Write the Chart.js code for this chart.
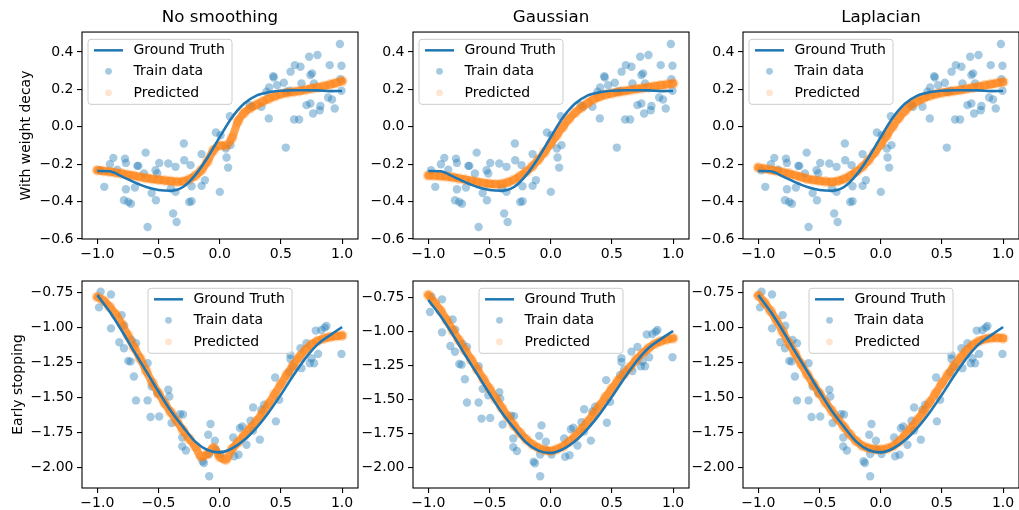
<!DOCTYPE html>
<html>
<head>
<meta charset="utf-8">
<script src="https://cdn.jsdelivr.net/npm/chart.js@4.4.0/dist/chart.umd.min.js"></script>
<style>
  html, body { margin: 0; padding: 0; background: #fff; width: 1019px; height: 510px; overflow: hidden; }
  canvas { position: absolute; }
</style>
</head>
<body>
<script>
// ---- data ----
const colTitles = ['No smoothing', 'Gaussian', 'Laplacian'];
const rowLabels = ['With weight decay', 'Early stopping'];
const legendLabels = ['Ground Truth', 'Train data', 'Predicted'];

const xTicks = [-1, -0.5, 0, 0.5, 1];
const yTicksTop = [-0.6, -0.4, -0.2, 0, 0.2, 0.4];
const yTicksBottom = [-2, -1.75, -1.5, -1.25, -1, -0.75];

const truthX = [-1, -0.9, -0.8, -0.7, -0.6, -0.5, -0.4, -0.3, -0.2, -0.1, 0,
                0.1, 0.2, 0.3, 0.4, 0.5, 0.6, 0.7, 0.8, 0.9, 1];
const truthTop = [-0.236, -0.238, -0.265, -0.296, -0.322, -0.338, -0.342, -0.322, -0.258, -0.165, -0.055,
                  0.050, 0.125, 0.167, 0.185, 0.193, 0.196, 0.196, 0.195, 0.191, 0.192];
const truthBottom = [-0.767, -0.885, -1.022, -1.170, -1.313, -1.457, -1.595, -1.710, -1.816, -1.876, -1.893,
                     -1.865, -1.805, -1.717, -1.607, -1.480, -1.345, -1.220, -1.120, -1.055, -0.995];

const predX = [-1, -0.95, -0.9, -0.85, -0.8, -0.75, -0.7, -0.65, -0.6, -0.55, -0.5,
               -0.45, -0.4, -0.35, -0.3, -0.25, -0.2, -0.15, -0.1, -0.05, 0,
               0.05, 0.1, 0.15, 0.2, 0.25, 0.3, 0.35, 0.4, 0.45, 0.5,
               0.55, 0.6, 0.65, 0.7, 0.75, 0.8, 0.85, 0.9, 0.95, 1];
const predTopNone = [-0.232, -0.236, -0.240, -0.245, -0.250, -0.256, -0.262, -0.268, -0.274, -0.279, -0.283,
                     -0.287, -0.290, -0.294, -0.292, -0.281, -0.262, -0.232, -0.185, -0.125, -0.100,
                     -0.100, -0.060, 0.030, 0.075, 0.100, 0.118, 0.135, 0.150, 0.163, 0.175,
                     0.182, 0.187, 0.192, 0.198, 0.205, 0.211, 0.218, 0.226, 0.235, 0.245];
const predTopGauss = [-0.260, -0.261, -0.263, -0.266, -0.270, -0.276, -0.282, -0.288, -0.295, -0.300, -0.305,
                      -0.307, -0.305, -0.297, -0.283, -0.263, -0.240, -0.211, -0.176, -0.135, -0.090,
                      -0.045, 0.000, 0.042, 0.076, 0.103, 0.126, 0.147, 0.161, 0.172, 0.179,
                      0.186, 0.191, 0.197, 0.202, 0.207, 0.212, 0.217, 0.222, 0.227, 0.232];
const predTopLap = [-0.218, -0.224, -0.230, -0.236, -0.243, -0.250, -0.259, -0.269, -0.278, -0.284, -0.289,
                    -0.293, -0.295, -0.290, -0.279, -0.262, -0.240, -0.214, -0.180, -0.138, -0.094,
                    -0.046, 0.003, 0.048, 0.086, 0.116, 0.138, 0.153, 0.166, 0.175, 0.182,
                    0.187, 0.192, 0.197, 0.203, 0.209, 0.215, 0.222, 0.228, 0.234, 0.240];
const predBottomNone = [-0.780, -0.805, -0.850, -0.905, -0.975, -1.055, -1.140, -1.220, -1.310, -1.395, -1.470,
                        -1.540, -1.605, -1.670, -1.735, -1.795, -1.850, -1.925, -1.905, -1.860, -1.925,
                        -1.945, -1.870, -1.820, -1.770, -1.720, -1.670, -1.610, -1.545, -1.475, -1.405,
                        -1.335, -1.270, -1.210, -1.160, -1.120, -1.095, -1.078, -1.067, -1.060, -1.057];
const predBottomGauss = [-0.730, -0.785, -0.845, -0.915, -0.990, -1.062, -1.135, -1.205, -1.277, -1.350, -1.420,
                         -1.492, -1.560, -1.627, -1.690, -1.745, -1.793, -1.830, -1.856, -1.872, -1.878,
                         -1.865, -1.845, -1.810, -1.770, -1.720, -1.665, -1.605, -1.545, -1.480, -1.420,
                         -1.360, -1.310, -1.260, -1.205, -1.160, -1.122, -1.090, -1.070, -1.057, -1.049];
const predBottomLap = [-0.770, -0.820, -0.880, -0.950, -1.030, -1.110, -1.185, -1.260, -1.335, -1.405, -1.470,
                       -1.535, -1.595, -1.655, -1.710, -1.765, -1.812, -1.845, -1.862, -1.870, -1.872,
                       -1.866, -1.848, -1.815, -1.768, -1.715, -1.660, -1.600, -1.535, -1.468, -1.400,
                       -1.335, -1.272, -1.215, -1.165, -1.125, -1.098, -1.082, -1.074, -1.072, -1.076];

const trainTop = [
  [-0.978, -0.232], [-0.943, -0.321], [-0.897, -0.200], [-0.869, -0.166], [-0.837, -0.229],
  [-0.774, -0.170], [-0.766, -0.193], [-0.766, -0.334], [-0.782, -0.393], [-0.747, -0.402],
  [-0.725, -0.411], [-0.693, -0.325], [-0.673, -0.209], [-0.665, -0.209], [-0.605, -0.138],
  [-0.619, -0.250], [-0.556, -0.354], [-0.589, -0.536], [-0.524, -0.232], [-0.521, -0.393],
  [-0.494, -0.193], [-0.510, -0.250], [-0.420, -0.196], [-0.380, -0.464], [-0.352, -0.509],
  [-0.399, -0.330], [-0.361, -0.348], [-0.361, -0.214], [-0.293, -0.089], [-0.290, -0.179],
  [-0.238, -0.205], [-0.249, -0.402], [-0.230, -0.398], [-0.230, -0.318], [-0.148, -0.146],
  [-0.148, -0.316], [-0.121, -0.286], [-0.031, -0.030], [0.001, -0.348], [0.007, -0.045],
  [0.050, -0.116], [0.056, -0.164], [0.069, -0.218], [0.083, 0.057], [0.088, -0.098],
  [0.246, 0.116], [0.265, 0.107], [0.341, 0.107], [0.382, 0.188], [0.401, 0.045],
  [0.404, 0.211], [0.437, 0.271], [0.442, 0.264], [0.469, 0.223], [0.524, 0.236],
  [0.540, -0.111], [0.545, 0.188], [0.573, 0.193], [0.579, 0.295], [0.608, 0.039],
  [0.614, 0.330], [0.649, 0.039], [0.660, 0.321], [0.668, 0.232], [0.709, 0.116],
  [0.731, 0.375], [0.741, 0.277], [0.755, 0.286], [0.741, 0.125], [0.763, 0.071],
  [0.771, 0.232], [0.799, 0.384], [0.823, 0.111], [0.818, 0.089], [0.899, 0.330],
  [0.886, 0.157], [0.918, 0.146], [0.940, 0.098], [0.982, 0.443], [0.995, 0.327],
  [0.986, 0.255], [0.995, 0.193]
];
const trainBottom = [
  [-0.986, -0.855], [-0.973, -0.743], [-0.888, -0.762], [-0.888, -1.005], [-0.801, -0.910],
  [-0.780, -0.986], [-0.820, -1.105], [-0.782, -1.148], [-0.747, -1.238], [-0.728, -1.243],
  [-0.720, -1.088], [-0.684, -1.112], [-0.701, -1.350], [-0.684, -1.521], [-0.589, -1.255],
  [-0.589, -1.521], [-0.565, -1.640], [-0.556, -1.421], [-0.510, -1.469], [-0.494, -1.636],
  [-0.420, -1.445], [-0.412, -1.493], [-0.393, -1.683], [-0.325, -1.619], [-0.300, -1.622],
  [-0.306, -1.786], [-0.306, -1.850], [-0.276, -1.879], [-0.140, -1.957], [-0.129, -1.969],
  [-0.094, -1.767], [-0.075, -1.690], [-0.086, -2.064], [-0.086, -1.905], [-0.039, -1.810],
  [-0.031, -1.874], [0.007, -1.905], [0.110, -1.786], [0.118, -1.921], [0.154, -1.910],
  [0.165, -1.719], [0.184, -1.707], [0.219, -1.838], [0.252, -1.667], [0.273, -1.571],
  [0.273, -1.736], [0.328, -1.802], [0.341, -1.588], [0.363, -1.552], [0.453, -1.357],
  [0.459, -1.671], [0.486, -1.517], [0.578, -1.195], [0.578, -1.224], [0.567, -1.319],
  [0.600, -1.279], [0.660, -1.147], [0.668, -1.290], [0.709, -1.112], [0.736, -1.255],
  [0.750, -1.219], [0.771, -1.255], [0.785, -1.021], [0.804, -1.188], [0.831, -1.017],
  [0.858, -1.000], [0.872, -0.988], [0.995, -1.188]
];

// ---- panel layout ----
const blue = '#1f77b4';
const trainColor = 'rgba(31,119,180,0.4)';
const predDotColor = 'rgba(255,127,14,0.3)';
const predBandColor = 'rgba(255,127,14,0.75)';
const predLegendColor = 'rgba(255,127,14,0.2)';

const colLeft = [0, 361, 691];
const yAxisW = [82, 52, 52];
const rowTop = [0, 249];
const yTitlePad = [18, 9.6];
const yRange = [
  [[-0.6, 0.507], [-0.6, 0.507], [-0.6, 0.507]],
  [[-2.148, -0.666], [-2.151, -0.627], [-2.148, -0.666]]
];
const preds = [[predTopNone, predTopGauss, predTopLap], [predBottomNone, predBottomGauss, predBottomLap]];

Chart.defaults.font.family = '"DejaVu Sans", sans-serif';
Chart.defaults.font.size = 14;
Chart.defaults.color = '#000';

const fmt = (v, d) => v.toFixed(d).replace('-', '\u2212');

// spines on all four sides plus a matplotlib-like legend box
const mplFrame = {
  id: 'mplFrame',
  afterDraw(chart, args, opts) {
    const {ctx, chartArea: a} = chart;
    ctx.save();
    ctx.strokeStyle = '#000';
    ctx.lineWidth = 1.1;
    ctx.strokeRect(a.left, a.top, a.right - a.left, a.bottom - a.top);

    const w = 144, h = 65;
    const x0 = opts.center ? (a.left + a.right) / 2 - w / 2 : a.left + 6;
    const y0 = a.top + 7.3;
    ctx.beginPath();
    if (ctx.roundRect) ctx.roundRect(x0, y0, w, h, 3); else ctx.rect(x0, y0, w, h);
    ctx.fillStyle = 'rgba(255,255,255,0.8)';
    ctx.fill();
    ctx.strokeStyle = '#cccccc';
    ctx.lineWidth = 1;
    ctx.stroke();

    ctx.strokeStyle = blue;
    ctx.lineWidth = 2.5;
    ctx.beginPath();
    ctx.moveTo(x0 + 6, y0 + 11);
    ctx.lineTo(x0 + 35, y0 + 11);
    ctx.stroke();

    ctx.fillStyle = trainColor;
    ctx.beginPath(); ctx.arc(x0 + 20.5, y0 + 32, 3.4, 0, Math.PI * 2); ctx.fill();
    ctx.fillStyle = predLegendColor;
    ctx.beginPath(); ctx.arc(x0 + 20.5, y0 + 53.5, 3.4, 0, Math.PI * 2); ctx.fill();

    ctx.fillStyle = '#000';
    ctx.font = '14px "DejaVu Sans"';
    ctx.textBaseline = 'middle';
    ctx.textAlign = 'left';
    legendLabels.forEach((t, i) => ctx.fillText(t, x0 + 45.5, y0 + 11 + i * 21.3));
    ctx.restore();
  }
};

function makePanel(row, col) {
  const cv = document.createElement('canvas');
  cv.width = yAxisW[col] + 276 + 6;
  cv.height = 265;
  cv.style.left = colLeft[col] + 'px';
  cv.style.top = rowTop[row] + 'px';
  document.body.appendChild(cv);

  const truth = row === 0 ? truthTop : truthBottom;
  const train = row === 0 ? trainTop : trainBottom;
  const pred = preds[row][col];
  const yTicks = row === 0 ? yTicksTop : yTicksBottom;
  const dec = row === 0 ? 1 : 2;

  const gridOpts = { drawOnChartArea: false, drawTicks: true, tickLength: 5, color: '#000', lineWidth: 1.1 };

  new Chart(cv, {
    type: 'scatter',
    data: {
      datasets: [
        { type: 'line', label: legendLabels[0], data: truthX.map((x, i) => ({x, y: truth[i]})),
          borderColor: blue, borderWidth: 2.6, pointRadius: 0, showLine: true, fill: false,
          cubicInterpolationMode: 'monotone' },
        // predicted: dense dots in the picture, drawn as a soft band with dots on it
        { label: legendLabels[2], data: predX.map((x, i) => ({x, y: pred[i]})),
          showLine: true, borderColor: predBandColor, borderWidth: 8, borderCapStyle: 'round',
          borderJoinStyle: 'round', cubicInterpolationMode: 'monotone',
          backgroundColor: predDotColor, pointBorderWidth: 0, pointRadius: 5.5 },
        { label: legendLabels[1], data: train.map(p => ({x: p[0], y: p[1]})),
          backgroundColor: trainColor, borderWidth: 0, pointBorderWidth: 0, pointRadius: 4.2 }
      ]
    },
    options: {
      responsive: false,
      animation: false,
      events: [],
      layout: { padding: { top: row === 0 ? 0 : 32, right: 6, left: 0, bottom: 0 } },
      scales: {
        x: {
          type: 'linear', min: -1.125, max: 1.13,
          afterBuildTicks: s => { s.ticks = xTicks.map(v => ({value: v})); },
          afterFit: s => { s.height = 26; },
          ticks: { callback: v => fmt(v, 1), padding: 2, maxRotation: 0, autoSkip: false },
          grid: gridOpts,
          border: { display: false }
        },
        y: {
          type: 'linear', min: yRange[row][col][0], max: yRange[row][col][1],
          afterBuildTicks: s => { s.ticks = yTicks.map(v => ({value: v})); },
          afterFit: s => { s.width = yAxisW[col]; },
          ticks: { callback: v => fmt(v, dec), padding: 3.5 },
          grid: gridOpts,
          border: { display: false },
          title: { display: col === 0, text: rowLabels[row], font: { size: 14 },
                   padding: { top: yTitlePad[row], bottom: 0 } }
        }
      },
      plugins: {
        legend: { display: false },
        tooltip: { enabled: false },
        title: { display: row === 0, text: colTitles[col], fullSize: false,
                 font: { size: 16.7, weight: 'normal' }, padding: { top: 7.7, bottom: 4.3 } },
        mplFrame: { center: row === 1 }
      }
    },
    plugins: [mplFrame]
  });
}

for (let r = 0; r < 2; r++) for (let c = 0; c < 3; c++) makePanel(r, c);
</script>
</body>
</html>
